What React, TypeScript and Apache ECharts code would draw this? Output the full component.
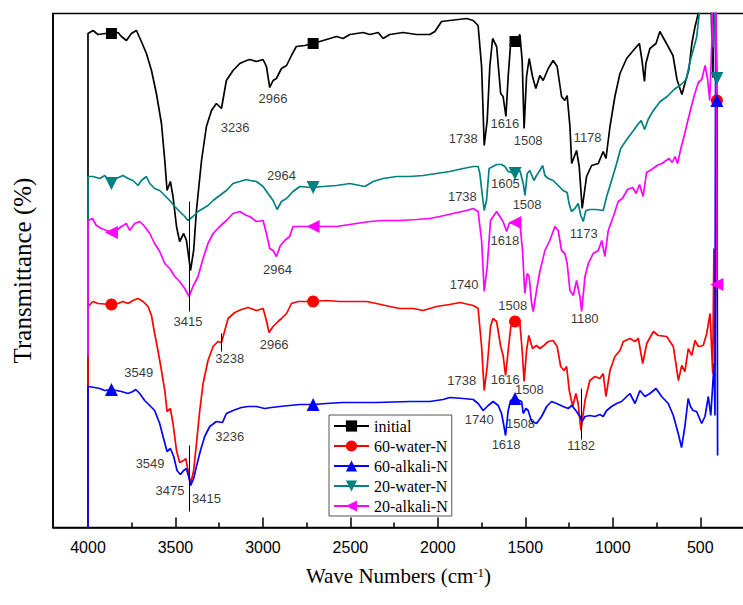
import React, { useEffect, useRef } from "react";
import * as echarts from "echarts";

// ---------- data (wave number in cm-1, transmittance in arbitrary offset units) ----------
const seriesNames = ["initial", "60-water-N", "60-alkali-N", "20-water-N", "20-alkali-N"];
const seriesColors = ["#000000", "#ff0000", "#0000ff", "#008080", "#ff00ff"];
const markerWaveNumbers = [3866, 2713, 1559, 405];

const majorTickValues = [4000, 3500, 3000, 2500, 2000, 1500, 1000, 500];
const minorTickValues = [3750, 3250, 2750, 2250, 1750, 1250, 750];

const initialSpectrum: [number, number][] = [
  [4000, 0], [4000, 494], [3971, 497], [3943, 493], [3899, 494], [3866, 494], [3828, 495], [3809, 491],
  [3780, 487], [3752, 494], [3723, 497], [3695, 486], [3666, 474], [3637, 457], [3609, 434], [3580, 404],
  [3561, 367], [3548, 337], [3529, 346], [3514, 331], [3494, 301], [3476, 286], [3453, 294], [3437, 287],
  [3414, 257], [3396, 277], [3380, 317], [3351, 367], [3323, 401], [3294, 417], [3266, 424], [3237, 419],
  [3209, 447], [3171, 457], [3132, 464], [3094, 467], [3075, 468], [3037, 466], [2999, 468], [2980, 461],
  [2961, 440], [2942, 447], [2923, 449], [2894, 459], [2865, 462], [2837, 472], [2809, 481], [2761, 482],
  [2713, 484], [2656, 487], [2579, 491], [2542, 489], [2503, 493], [2427, 495], [2389, 493], [2341, 495],
  [2313, 489], [2275, 493], [2199, 495], [2122, 493], [2046, 493], [2017, 496], [1979, 506], [1932, 507],
  [1836, 509], [1798, 507], [1770, 502], [1750, 461], [1735, 382], [1718, 407], [1703, 461], [1687, 489],
  [1664, 481], [1641, 434], [1627, 431], [1611, 411], [1598, 451], [1584, 484], [1559, 486], [1550, 487],
  [1531, 493], [1518, 467], [1507, 399], [1493, 451], [1478, 469], [1459, 451], [1440, 439], [1417, 452],
  [1398, 447], [1369, 459], [1341, 467], [1318, 461], [1293, 431], [1274, 427], [1261, 432], [1245, 401],
  [1235, 364], [1207, 377], [1192, 361], [1175, 319], [1150, 351], [1121, 362], [1083, 364], [1055, 376],
  [1039, 369], [1016, 401], [988, 431], [959, 454], [921, 469], [883, 477], [848, 484], [833, 467],
  [819, 446], [811, 464], [788, 479], [753, 484], [731, 496], [690, 483], [656, 472], [633, 448],
  [605, 433], [588, 444], [565, 458], [548, 484], [531, 500], [503, 520], [480, 535], [440, 535],
  [428, 450], [420, 535], [405, 535],
];

const water60Spectrum: [number, number][] = [
  [4000, 0], [4000, 221], [3971, 226], [3943, 224], [3866, 223], [3828, 224], [3800, 226], [3771, 224],
  [3743, 227], [3714, 229], [3685, 226], [3657, 221], [3637, 212], [3619, 194], [3600, 177], [3580, 157],
  [3561, 137], [3548, 116], [3529, 119], [3514, 104], [3494, 77], [3476, 65], [3453, 67], [3441, 69],
  [3428, 57], [3413, 44], [3396, 57], [3380, 84], [3361, 117], [3342, 144], [3314, 167], [3285, 181],
  [3257, 186], [3237, 185], [3218, 197], [3199, 209], [3161, 215], [3123, 218], [3085, 220], [3037, 217],
  [2999, 219], [2980, 207], [2965, 195], [2942, 201], [2913, 206], [2894, 209], [2865, 214], [2837, 224],
  [2799, 226], [2713, 226], [2637, 227], [2561, 226], [2484, 226], [2408, 226], [2351, 224], [2275, 221],
  [2217, 219], [2141, 219], [2084, 217], [2008, 221], [1932, 223], [1874, 225], [1798, 222], [1770, 219],
  [1750, 181], [1735, 137], [1718, 161], [1699, 201], [1685, 209], [1664, 206], [1641, 181], [1627, 172],
  [1613, 152], [1598, 177], [1583, 201], [1559, 206], [1531, 204], [1518, 177], [1507, 146], [1493, 177],
  [1480, 192], [1459, 179], [1436, 182], [1417, 179], [1394, 182], [1369, 186], [1341, 187], [1318, 181],
  [1298, 161], [1279, 157], [1264, 161], [1249, 137], [1229, 121], [1211, 134], [1198, 124], [1182, 97],
  [1159, 127], [1131, 147], [1102, 151], [1074, 149], [1055, 154], [1039, 131], [1016, 157], [988, 171],
  [959, 177], [940, 186], [902, 189], [873, 186], [854, 189], [829, 164], [806, 184], [768, 196],
  [740, 192], [692, 191], [654, 181], [625, 147], [606, 162], [588, 156], [568, 179], [549, 172],
  [530, 187], [511, 181], [483, 182], [463, 194], [444, 214], [429, 154], [422, 279], [416, 160],
  [410, 279], [405, 427],
];

const alkali60Spectrum: [number, number][] = [
  [4000, 0], [4000, 141], [3962, 140], [3933, 139], [3904, 137], [3866, 138], [3809, 136], [3771, 134],
  [3743, 136], [3727, 138], [3704, 134], [3676, 127], [3647, 122], [3619, 117], [3590, 104], [3571, 91],
  [3548, 76], [3529, 79], [3510, 71], [3491, 57], [3472, 53], [3453, 57], [3437, 59], [3422, 49],
  [3413, 42], [3396, 49], [3380, 61], [3357, 77], [3333, 91], [3304, 101], [3266, 106], [3231, 105],
  [3209, 114], [3171, 117], [3123, 120], [3085, 121], [3037, 121], [2990, 119], [2951, 120], [2904, 121],
  [2847, 122], [2789, 123], [2713, 123], [2637, 124], [2542, 125], [2351, 125], [2160, 126], [2046, 126],
  [1970, 128], [1932, 130], [1855, 129], [1798, 128], [1770, 124], [1741, 117], [1712, 122], [1684, 126],
  [1655, 122], [1636, 114], [1627, 106], [1613, 92], [1598, 117], [1584, 127], [1559, 129], [1521, 126],
  [1512, 114], [1497, 119], [1484, 117], [1464, 106], [1436, 104], [1407, 111], [1378, 121], [1350, 126],
  [1321, 124], [1284, 121], [1255, 119], [1235, 122], [1211, 117], [1188, 111], [1176, 106], [1159, 111],
  [1131, 112], [1102, 111], [1074, 113], [1055, 111], [1035, 117], [1007, 121], [978, 124], [950, 126],
  [902, 134], [873, 124], [845, 137], [816, 131], [788, 134], [753, 139], [721, 131], [683, 124],
  [654, 112], [626, 94], [607, 80], [588, 101], [569, 129], [556, 121], [541, 117], [521, 116],
  [492, 104], [473, 111], [454, 131], [440, 112], [421, 164], [416, 112], [412, 535], [405, 427],
  [401, 72],
];

const water20Spectrum: [number, number][] = [
  [4000, 171], [4000, 351], [3971, 351], [3933, 349], [3904, 352], [3866, 344], [3838, 349], [3800, 352],
  [3771, 349], [3743, 347], [3714, 342], [3695, 347], [3666, 351], [3647, 344], [3619, 339], [3590, 337],
  [3561, 332], [3533, 327], [3504, 321], [3476, 316], [3447, 311], [3428, 307], [3400, 311], [3371, 316],
  [3342, 319], [3314, 322], [3285, 327], [3247, 332], [3209, 337], [3171, 344], [3132, 346], [3094, 348],
  [3075, 347], [3037, 346], [2999, 341], [2971, 334], [2942, 327], [2919, 318], [2894, 326], [2865, 329],
  [2828, 336], [2789, 341], [2713, 340], [2656, 341], [2579, 342], [2503, 344], [2418, 341], [2370, 346],
  [2313, 349], [2236, 351], [2160, 351], [2084, 352], [2008, 354], [1932, 356], [1855, 359], [1798, 361],
  [1770, 361], [1760, 354], [1747, 334], [1735, 317], [1722, 327], [1707, 359], [1664, 363], [1636, 363],
  [1617, 361], [1598, 356], [1559, 354], [1531, 357], [1512, 344], [1502, 332], [1489, 354], [1474, 357],
  [1451, 347], [1436, 352], [1417, 357], [1401, 362], [1388, 352], [1369, 349], [1341, 347], [1312, 342],
  [1284, 337], [1261, 335], [1250, 324], [1236, 316], [1217, 319], [1198, 324], [1183, 312], [1169, 306],
  [1154, 317], [1131, 318], [1093, 318], [1055, 317], [1035, 331], [1007, 347], [978, 364], [955, 379],
  [916, 389], [886, 396], [857, 403], [838, 407], [818, 398], [798, 408], [768, 417], [729, 426],
  [689, 431], [650, 438], [610, 443], [580, 448], [557, 467], [521, 490], [492, 535], [440, 535],
  [425, 480], [415, 535], [405, 449],
];

const alkali20Spectrum: [number, number][] = [
  [4000, 171], [4000, 307], [3975, 309], [3952, 302], [3923, 299], [3866, 295], [3838, 297], [3809, 301],
  [3780, 304], [3762, 297], [3733, 304], [3704, 306], [3676, 301], [3647, 294], [3619, 284], [3590, 276],
  [3561, 264], [3533, 259], [3504, 251], [3476, 246], [3447, 239], [3422, 231], [3400, 241], [3371, 251],
  [3342, 269], [3314, 284], [3285, 294], [3247, 301], [3209, 307], [3171, 314], [3132, 316], [3094, 312],
  [3075, 311], [3037, 306], [2999, 307], [2980, 294], [2961, 279], [2942, 277], [2923, 271], [2900, 282],
  [2875, 287], [2847, 291], [2828, 301], [2789, 301], [2713, 301], [2656, 301], [2579, 301], [2503, 303],
  [2389, 306], [2313, 307], [2217, 307], [2122, 308], [2046, 309], [1989, 311], [1913, 314], [1836, 317],
  [1798, 319], [1770, 316], [1750, 287], [1735, 236], [1718, 261], [1699, 307], [1664, 316], [1627, 306],
  [1607, 296], [1592, 304], [1559, 305], [1531, 304], [1516, 277], [1503, 234], [1489, 254], [1478, 251],
  [1464, 224], [1455, 216], [1436, 237], [1417, 256], [1388, 277], [1360, 287], [1331, 301], [1312, 297],
  [1293, 277], [1274, 274], [1261, 264], [1245, 237], [1226, 232], [1207, 247], [1188, 231], [1178, 216],
  [1159, 251], [1140, 264], [1112, 274], [1083, 277], [1063, 287], [1045, 271], [1026, 297], [997, 311],
  [969, 326], [945, 329], [916, 338], [886, 340], [867, 334], [847, 343], [827, 331], [807, 355],
  [778, 358], [748, 362], [719, 364], [679, 369], [660, 365], [644, 371], [630, 364], [611, 379],
  [590, 393], [571, 407], [551, 421], [531, 434], [511, 445], [492, 448], [472, 462], [458, 448],
  [446, 427], [433, 490], [428, 535], [410, 535], [405, 243],
];

// peak annotations: text, wave number, transmittance level
const peakLabelText = [
  "3236", "2966", "1738", "1616", "1508", "1178",
  "2964", "1738", "1605", "1508", "1173",
  "2964", "1740", "1618", "1508", "1180", "3415",
  "3238", "2966", "1738", "1616", "1508", "3549",
  "3236", "3549", "3475", "3415", "1740", "1508", "1618", "1182",
];
const peakLabelWn = [
  3159, 2942, 1855, 1617, 1484, 1144,
  2894, 1860, 1614, 1490, 1166,
  2917, 1850, 1617, 1572, 1161, 3428,
  3190, 2936, 1863, 1615, 1477, 3710,
  3190, 3645, 3531, 3323, 1763, 1528, 1610, 1181,
];
const peakLabelT = [
  400, 429, 389, 404, 387, 390,
  352, 331, 344, 323, 294,
  258, 243, 287, 222, 209, 206,
  169, 183, 147, 148, 138, 155,
  91, 64, 37, 29, 108, 104, 83, 82,
];
const guideLineWn = [3420, 3420, 3238, 1182];
const guideLineFrom = [326, 82, 194, 139];
const guideLineTo = [216, 16, 176, 88];

const spectra = [initialSpectrum, water60Spectrum, alkali60Spectrum, water20Spectrum, alkali20Spectrum];
const seriesSymbols = [
  "rect",
  "circle",
  "triangle",
  "path://M0,0L10,0L5,9Z",
  "path://M9,0L9,10L0,5Z",
];
const seriesSymbolSizes = [11, 12, 13, 13, 13];

export default function App() {
  const ref = useRef<HTMLDivElement>(null);

  useEffect(() => {
    if (!ref.current) return;
    const chart = echarts.init(ref.current, undefined, { renderer: "svg" });

    const lineSeries = spectra.map((pts, i) => ({
      name: seriesNames[i],
      type: "line",
      xAxisIndex: 0,
      yAxisIndex: 0,
      data: pts.map(([wn, t]) =>
        markerWaveNumbers.includes(wn) ? { value: [wn, t] } : { value: [wn, t], symbol: "none" }
      ),
      symbol: seriesSymbols[i],
      symbolSize: seriesSymbolSizes[i],
      showSymbol: true,
      showAllSymbol: true,
      clip: true,
      color: seriesColors[i],
      itemStyle: { color: seriesColors[i] },
      lineStyle: { color: seriesColors[i], width: 1.7 },
      emphasis: { disabled: true },
      z: 2,
    }));

    const annotationSeries = {
      name: "peaks",
      type: "scatter",
      data: peakLabelText.map((t, i) => ({ name: t, value: [peakLabelWn[i], peakLabelT[i]] })),
      symbolSize: 1,
      itemStyle: { color: "transparent" },
      label: {
        show: true,
        position: "inside",
        formatter: (p: any) => p.name,
        color: "#000",
        fontFamily: "Liberation Sans",
        fontSize: 13,
      },
      emphasis: { disabled: true },
      silent: true,
      z: 5,
      markLine: {
        silent: true,
        symbol: ["none", "none"],
        label: { show: false },
        lineStyle: { color: "#000", width: 1, type: "solid" },
        emphasis: { disabled: true },
        data: guideLineWn.map((wn, i) => [
          { coord: [wn, guideLineFrom[i]] },
          { coord: [wn, guideLineTo[i]] },
        ]),
      },
    };

    chart.setOption({
      animation: false,
      backgroundColor: "#ffffff",
      grid: {
        left: 53,
        top: 13.5,
        right: -1,
        bottom: 77.5,
        show: true,
        borderColor: "#000",
        borderWidth: 1.6,
        backgroundColor: "transparent",
        outerBoundsMode: "none",
      },
      legend: {
        data: seriesNames,
        orient: "vertical",
        left: 329,
        top: 415,
        padding: [3, 4, 2, 4],
        itemWidth: 35,
        itemHeight: 14,
        itemGap: 4,
        borderColor: "#555",
        borderWidth: 1,
        backgroundColor: "#fff",
        selectedMode: false,
        textStyle: { fontFamily: "Liberation Serif", fontSize: 16, color: "#000" },
      },
      xAxis: [
        {
          type: "value",
          min: 250,
          max: 4200,
          inverse: true,
          position: "bottom",
          name: "Wave Numbers (cm{sup|-1})",
          nameLocation: "middle",
          nameGap: 38,
          nameTextStyle: {
            fontFamily: "Liberation Serif",
            fontSize: 21,
            color: "#000",
            rich: { sup: { fontFamily: "Liberation Serif", fontSize: 13, verticalAlign: "top", color: "#000" } },
          },
          axisLine: { show: true, lineStyle: { color: "#000", width: 1.6 } },
          axisTick: {
            show: true,
            inside: true,
            length: 10,
            customValues: majorTickValues,
            lineStyle: { color: "#000", width: 1.5 },
          },
          axisLabel: {
            show: true,
            customValues: majorTickValues,
            formatter: (v: number) => String(v),
            margin: 12,
            fontFamily: "Liberation Sans",
            fontSize: 16,
            color: "#000",
          },
          splitLine: { show: false },
        },
        {
          type: "value",
          min: 250,
          max: 4200,
          inverse: true,
          position: "bottom",
          axisLine: { show: false },
          axisTick: {
            show: true,
            inside: true,
            length: 5,
            customValues: minorTickValues,
            lineStyle: { color: "#000", width: 1.5 },
          },
          axisLabel: { show: false },
          splitLine: { show: false },
        },
      ],
      yAxis: {
        type: "value",
        min: 0,
        max: 514,
        name: "Transmittance (%)",
        nameLocation: "middle",
        nameGap: 18,
        nameTextStyle: { fontFamily: "Liberation Serif", fontSize: 25, color: "#000" },
        axisLine: { show: true, lineStyle: { color: "#000", width: 1.6 } },
        axisTick: { show: false },
        axisLabel: { show: false },
        splitLine: { show: false },
      },
      series: [...lineSeries, annotationSeries],
    });

    return () => chart.dispose();
  }, []);

  return (
    <div
      ref={ref}
      style={{ position: "fixed", left: 0, top: 0, width: 743, height: 605, background: "#fff" }}
    />
  );
}
